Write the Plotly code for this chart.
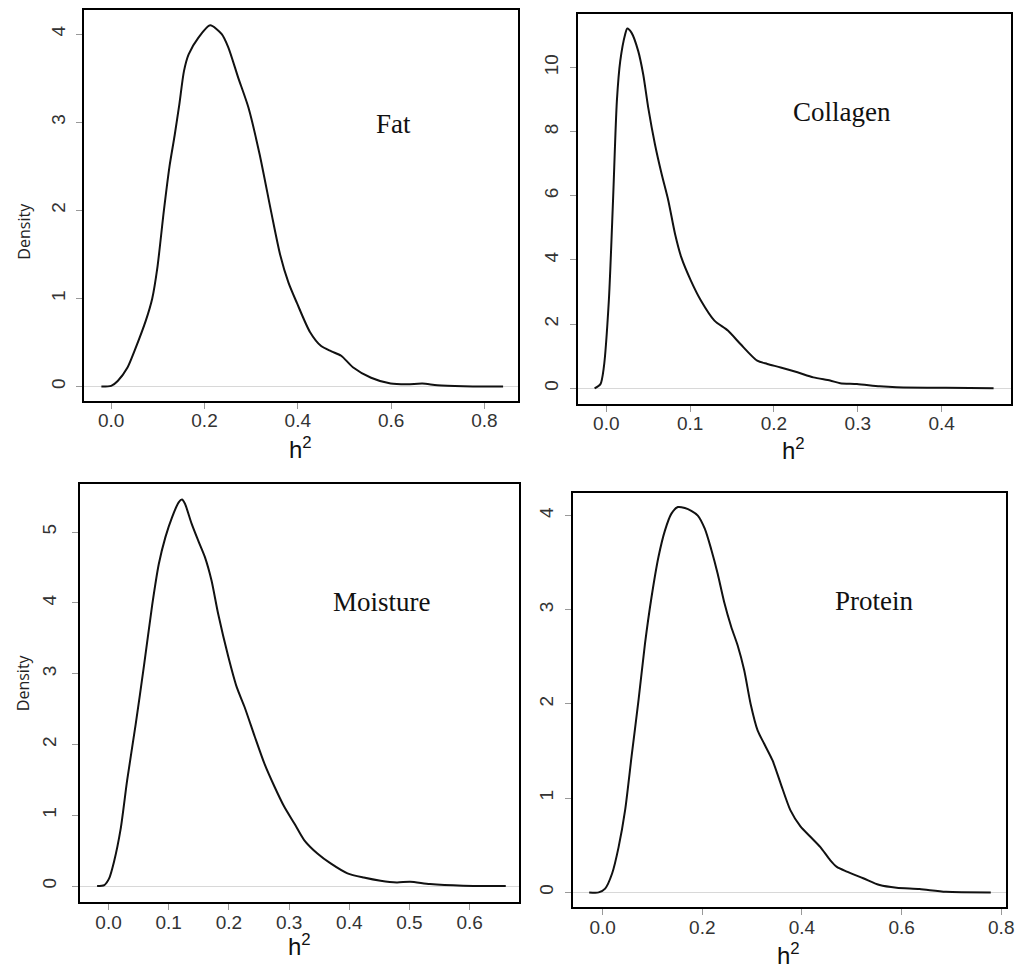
import plotly.graph_objects as go

W, H = 1035, 968
OFF = 8  # default page (body) margin of the written html page

# ---------------- data ----------------
fat_x = [-0.021, 0.0, 0.014, 0.035, 0.050, 0.074, 0.088, 0.099, 0.113, 0.125, 0.136, 0.146,
         0.156, 0.166, 0.187, 0.212, 0.237, 0.251, 0.272, 0.294, 0.318, 0.343, 0.362, 0.380,
         0.398, 0.426, 0.450, 0.472, 0.493, 0.518, 0.557, 0.599, 0.635, 0.667, 0.699, 0.755, 0.840]
fat_y = [0.0, 0.008, 0.064, 0.216, 0.405, 0.745, 1.0, 1.35, 2.0, 2.5, 2.85, 3.2,
         3.58, 3.77, 3.96, 4.10, 4.0, 3.85, 3.51, 3.17, 2.64, 1.98, 1.50, 1.18,
         0.95, 0.62, 0.46, 0.40, 0.35, 0.22, 0.10, 0.034, 0.026, 0.034, 0.015, 0.004, 0.0]

col_x = [-0.014, -0.007, -0.003, 0.003, 0.008, 0.0126, 0.0166, 0.0225, 0.025, 0.030, 0.038,
         0.044, 0.050, 0.058, 0.066, 0.074, 0.082, 0.0895, 0.101, 0.113, 0.129, 0.145, 0.160,
         0.180, 0.192, 0.208, 0.228, 0.247, 0.267, 0.279, 0.299, 0.326, 0.346, 0.385, 0.405, 0.462]
col_y = [0.0, 0.13, 0.65, 2.73, 5.85, 8.96, 10.2, 11.04, 11.22, 11.09, 10.52,
         9.79, 8.75, 7.61, 6.68, 5.85, 4.81, 4.08, 3.35, 2.73, 2.11, 1.80, 1.38,
         0.86, 0.76, 0.65, 0.50, 0.34, 0.24, 0.16, 0.135, 0.06, 0.03, 0.02, 0.02, 0.0]

moi_x = [-0.019, -0.007, 0.001, 0.009, 0.020, 0.031, 0.045, 0.059, 0.0725, 0.0835, 0.0945,
         0.1055, 0.1165, 0.122, 0.127, 0.138, 0.149, 0.160, 0.171, 0.182, 0.199, 0.213, 0.226,
         0.243, 0.259, 0.276, 0.292, 0.309, 0.325, 0.347, 0.369, 0.397, 0.424, 0.452, 0.479,
         0.501, 0.534, 0.589, 0.660]
moi_y = [0.0, 0.014, 0.108, 0.34, 0.80, 1.50, 2.28, 3.12, 3.97, 4.55, 4.93,
         5.21, 5.42, 5.46, 5.40, 5.12, 4.88, 4.65, 4.32, 3.85, 3.24, 2.81, 2.53,
         2.11, 1.73, 1.40, 1.12, 0.88, 0.65, 0.46, 0.32, 0.18, 0.12, 0.075, 0.052,
         0.061, 0.028, 0.005, 0.0]

pro_x = [-0.027, -0.008, 0.005, 0.019, 0.032, 0.045, 0.058, 0.072, 0.085, 0.098, 0.112,
         0.125, 0.138, 0.151, 0.165, 0.178, 0.191, 0.205, 0.218, 0.231, 0.244, 0.258, 0.271,
         0.284, 0.297, 0.311, 0.324, 0.341, 0.357, 0.377, 0.397, 0.417, 0.437, 0.457, 0.470,
         0.490, 0.523, 0.556, 0.590, 0.636, 0.689, 0.779]
pro_y = [0.0, 0.0, 0.04, 0.20, 0.48, 0.87, 1.44, 2.04, 2.64, 3.13, 3.56,
         3.84, 4.02, 4.09, 4.08, 4.05, 4.00, 3.86, 3.64, 3.38, 3.08, 2.82, 2.62,
         2.36, 2.00, 1.72, 1.58, 1.40, 1.16, 0.87, 0.70, 0.59, 0.48, 0.34, 0.27,
         0.22, 0.15, 0.078, 0.049, 0.035, 0.007, 0.0]

panel_names = ["Fat", "Collagen", "Moisture", "Protein"]
x_ticks = [[0.0, 0.2, 0.4, 0.6, 0.8],
           [0.0, 0.1, 0.2, 0.3, 0.4],
           [0.0, 0.1, 0.2, 0.3, 0.4, 0.5, 0.6],
           [0.0, 0.2, 0.4, 0.6, 0.8]]
y_ticks = [[0, 1, 2, 3, 4],
           [0, 2, 4, 6, 8, 10],
           [0, 1, 2, 3, 4, 5],
           [0, 1, 2, 3, 4]]
x_title = "h<sup>2</sup>"
y_title = "Density"

series = [(fat_x, fat_y), (col_x, col_y), (moi_x, moi_y), (pro_x, pro_y)]

# ---------------- layout geometry (screen pixels) ----------------
# left, right, top, bottom of each plot box
boxes = [(85, 522, 9, 400), (582, 1019, 13, 403), (81, 523, 483, 902), (577, 1014, 493, 907)]
x_ranges = [(-0.0574, 0.872), (-0.0343, 0.483), (-0.0467, 0.682), (-0.0603, 0.810)]
y_ranges = [(-0.159, 4.274), (-0.477, 11.67), (-0.226, 5.687), (-0.156, 4.234)]
ylab_standoff = [4, 4, 9, 4]
label_pos = [(397, 123), (848, 111), (385, 602), (881, 601)]
xtitle_pos = [(303, 447), (800, 448), (302, 945), (795, 954)]
ytitle_pos = [(24, 230), None, (23, 682), None]

fig = go.Figure()

def px_x(v):
    return (v - OFF) / W

def px_y(v):
    return 1 - (v - OFF) / H

for i, (xs, ys) in enumerate(series):
    n = "" if i == 0 else str(i + 1)
    fig.add_trace(go.Scatter(
        x=xs, y=ys, mode="lines",
        line=dict(color="#111111", width=2, shape="spline", smoothing=0.7),
        xaxis="x" + n, yaxis="y" + n, showlegend=False, hoverinfo="x+y"))
    l, r, t, b = boxes[i]
    common = dict(showgrid=False, showline=True, linecolor="#000000", linewidth=2,
                  mirror=True, ticks="outside", ticklen=6, tickwidth=1, tickcolor="#999999",
                  tickfont=dict(family="Liberation Sans, Arial, sans-serif", size=19, color="#333333"))
    fig.update_layout(**{
        "xaxis" + n: dict(common, domain=[px_x(l), px_x(r)], range=list(x_ranges[i]),
                          tickvals=x_ticks[i], tickformat=".1f", zeroline=False,
                          anchor="y" + n, ticklabelstandoff=-4),
        "yaxis" + n: dict(common, domain=[px_y(b), px_y(t)], range=list(y_ranges[i]),
                          tickvals=y_ticks[i], tickangle=-90, zeroline=True,
                          zerolinecolor="#d8d8d8", zerolinewidth=1,
                          anchor="x" + n, ticklabelstandoff=ylab_standoff[i]),
    })
    lx, ly = label_pos[i]
    fig.add_annotation(text=panel_names[i], x=px_x(lx), y=px_y(ly), xref="paper", yref="paper",
                       showarrow=False, xanchor="center", yanchor="middle",
                       font=dict(family="Liberation Serif, Times New Roman, serif", size=27, color="#111111"))
    tx, ty = xtitle_pos[i]
    fig.add_annotation(text=x_title, x=px_x(tx), y=px_y(ty), xref="paper", yref="paper",
                       showarrow=False, xanchor="center", yanchor="middle",
                       font=dict(family="Liberation Sans, Arial, sans-serif", size=24, color="#111111"))
    if ytitle_pos[i] is not None:
        dx, dy = ytitle_pos[i]
        fig.add_annotation(text=y_title, x=px_x(dx), y=px_y(dy), xref="paper", yref="paper",
                           showarrow=False, xanchor="center", yanchor="middle", textangle=-90,
                           font=dict(family="Open Sans, Liberation Sans, sans-serif", size=16, color="#222222"))

fig.update_layout(width=W, height=H, margin=dict(l=0, r=0, t=0, b=0),
                  paper_bgcolor="white", plot_bgcolor="white")

fig.write_html("out.html")
